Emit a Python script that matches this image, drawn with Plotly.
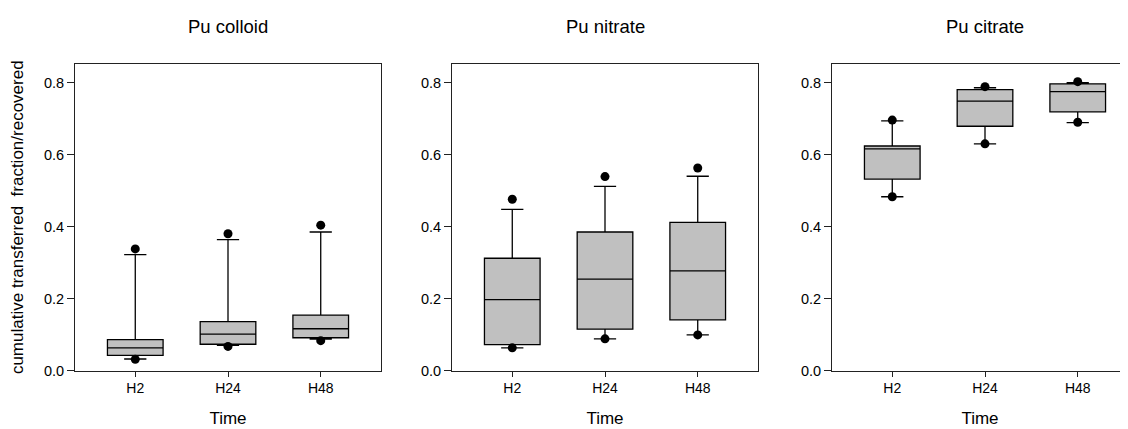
import plotly.graph_objects as go
from plotly.subplots import make_subplots

categories = ["H2", "H24", "H48"]
panel_titles = ["Pu colloid", "Pu nitrate", "Pu citrate"]

# colloid
colloid_q1 = [0.042, 0.073, 0.091]
colloid_median = [0.063, 0.101, 0.116]
colloid_q3 = [0.086, 0.136, 0.154]
colloid_low = [0.032, 0.070, 0.087]
colloid_high = [0.322, 0.364, 0.385]
colloid_dots_low = [0.031, 0.067, 0.083]
colloid_dots_high = [0.338, 0.380, 0.404]

# nitrate
nitrate_q1 = [0.072, 0.115, 0.141]
nitrate_median = [0.197, 0.254, 0.277]
nitrate_q3 = [0.312, 0.385, 0.412]
nitrate_low = [0.063, 0.088, 0.099]
nitrate_high = [0.448, 0.512, 0.540]
nitrate_dots_low = [0.063, 0.088, 0.099]
nitrate_dots_high = [0.476, 0.539, 0.563]

# citrate
citrate_q1 = [0.532, 0.679, 0.719]
citrate_median = [0.616, 0.749, 0.775]
citrate_q3 = [0.624, 0.781, 0.797]
citrate_low = [0.483, 0.630, 0.689]
citrate_high = [0.694, 0.786, 0.800]
citrate_dots_low = [0.483, 0.630, 0.690]
citrate_dots_high = [0.696, 0.789, 0.803]

panels = [
    (colloid_q1, colloid_median, colloid_q3, colloid_low, colloid_high, colloid_dots_low, colloid_dots_high),
    (nitrate_q1, nitrate_median, nitrate_q3, nitrate_low, nitrate_high, nitrate_dots_low, nitrate_dots_high),
    (citrate_q1, citrate_median, citrate_q3, citrate_low, citrate_high, citrate_dots_low, citrate_dots_high),
]

# the page body has an 8px margin, so the figure is 8px smaller each way
OFF = 8
W, H = 1128 - OFF, 429 - OFF
FONT = "Liberation Sans, Arial, sans-serif"

fig = make_subplots(rows=1, cols=3)
pos = list(range(len(categories)))

for i, (q1, med, q3, lo, hi, dlo, dhi) in enumerate(panels):
    col = i + 1
    fig.add_trace(go.Box(
        x=pos, q1=q1, median=med, q3=q3, lowerfence=lo, upperfence=hi,
        width=0.6, whiskerwidth=0.4,
        fillcolor="#c0c0c0",
        line=dict(color="black", width=1.3),
        boxpoints=False, hoverinfo="skip", showlegend=False,
    ), row=1, col=col)
    fig.add_trace(go.Scatter(
        x=pos + pos, y=dlo + dhi, mode="markers",
        marker=dict(color="black", size=9),
        hoverinfo="skip", showlegend=False,
    ), row=1, col=col)

# plot areas in page pixels (left, right); third panel runs off the right edge
x_px = [(75, 381), (452, 758), (832, 1128)]
unit_px = 306 / 3.3
y_dom = [(H - (370.5 - OFF)) / H, (H - (64 - OFF)) / H]

for i, (l, r) in enumerate(x_px):
    col = i + 1
    fig.update_xaxes(
        domain=[(l - OFF) / W, (r - OFF) / W],
        range=[-0.65, -0.65 + (r - l) / unit_px],
        tickvals=pos, ticktext=categories,
        showline=True, linecolor="#222", linewidth=1, mirror=True,
        ticks="outside", ticklen=5, tickcolor="#222",
        showgrid=False, zeroline=False, automargin=False,
        tickfont=dict(family=FONT, size=14, color="black"),
        title=dict(text="Time", font=dict(family=FONT, size=17, color="black"), standoff=16),
        row=1, col=col,
    )
    fig.update_yaxes(
        domain=y_dom, range=[0, 0.852],
        tickvals=[0, 0.2, 0.4, 0.6, 0.8], ticktext=["0.0", "0.2", "0.4", "0.6", "0.8"],
        showline=True, linecolor="#222", linewidth=1, mirror=(i < 2),
        ticks="outside", ticklen=7, tickcolor="#222",
        showgrid=False, zeroline=False, automargin=False,
        tickfont=dict(family=FONT, size=14.5, color="black"),
        row=1, col=col,
    )
    fig.add_annotation(
        x=1, xref=f"x{col if col > 1 else ''}", y=1 - (26.5 - OFF) / H, yref="paper",
        text=panel_titles[i], showarrow=False, yanchor="middle",
        font=dict(family=FONT, size=18.5, color="black"),
    )

fig.update_yaxes(
    title=dict(text="cumulative transferred \u00a0fraction/recovered",
               font=dict(family=FONT, size=17, color="black"), standoff=17),
    row=1, col=1,
)

fig.update_layout(
    width=W, height=H,
    margin=dict(l=0, r=0, t=0, b=0),
    paper_bgcolor="white", plot_bgcolor="white",
    boxmode="overlay",
)

fig.write_html("out.html")
